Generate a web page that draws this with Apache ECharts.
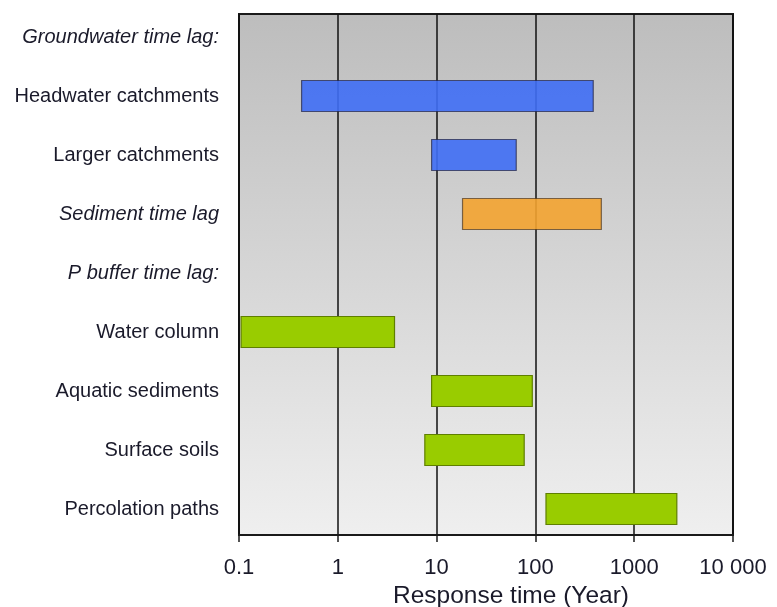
<!DOCTYPE html>
<html>
<head>
<meta charset="utf-8">
<script src="https://cdn.jsdelivr.net/npm/echarts@6/dist/echarts.min.js"></script>
<style>html,body{margin:0;padding:0;background:#fff}#c{width:777px;height:607px}</style>
</head>
<body>
<div id="c"></div>
<script>
// ---- data ----
var categories = ['Groundwater time lag:', 'Headwater catchments', 'Larger catchments', 'Sediment time lag', 'P buffer time lag:', 'Water column', 'Aquatic sediments', 'Surface soils', 'Percolation paths'];
var headerRows = ['Groundwater time lag:', 'Sediment time lag', 'P buffer time lag:'];
var rangeCategories = ['Headwater catchments', 'Larger catchments', 'Sediment time lag', 'Water column', 'Aquatic sediments', 'Surface soils', 'Percolation paths'];
var rangeStart = [0.43, 8.9, 18.3, 0.105, 8.9, 7.6, 128];
var rangeEnd = [385, 64, 465, 3.75, 93, 77, 2700];
var rangeGroup = ['groundwater', 'groundwater', 'sediment', 'pbuffer', 'pbuffer', 'pbuffer', 'pbuffer'];
var xTicks = [0.1, 1, 10, 100, 1000, 10000];
var xTickLabels = ['0.1', '1', '10', '100', '1000', '10 000'];

// ---- styles ----
var groupStyle = {
  groundwater: { fill: '#3f6ef5', opacity: 0.9, stroke: 'rgba(30,30,60,0.75)' },
  sediment: { fill: '#f3a330', opacity: 0.9, stroke: 'rgba(60,40,20,0.7)' },
  pbuffer: { fill: '#99cc00', opacity: 1, stroke: '#5f7f00' }
};
var FONT = 'Liberation Sans, Arial, sans-serif';
var TEXT = '#1a1a2a';

var seriesData = rangeCategories.map(function (c, i) {
  return [categories.indexOf(c), rangeStart[i], rangeEnd[i], i];
});

function xLabel(v) {
  for (var i = 0; i < xTicks.length; i++) {
    if (Math.abs(Math.log10(v) - Math.log10(xTicks[i])) < 1e-6) return xTickLabels[i];
  }
  return '';
}

var chart = echarts.init(document.getElementById('c'));
chart.setOption({
  animation: false,
  backgroundColor: '#ffffff',
  grid: [{
    left: 239, right: 44, top: 14, bottom: 72,
    containLabel: false,
    outerBoundsMode: 'none',
    show: true,
    borderColor: '#1a1a1a',
    borderWidth: 2,
    backgroundColor: new echarts.graphic.LinearGradient(0, 0, 0, 1, [
      { offset: 0, color: '#bdbdbd' },
      { offset: 1, color: '#efefef' }
    ])
  }, {
    left: 239, right: 44, top: 7.5, bottom: 68.5,
    containLabel: false,
    outerBoundsMode: 'none'
  }],
  xAxis: [{
    gridIndex: 0,
    type: 'log',
    logBase: 10,
    min: 0.1,
    max: 10000,
    name: 'Response time (Year)',
    nameLocation: 'middle',
    nameGap: 46,
    nameTextStyle: { fontFamily: FONT, fontSize: 24.5, color: TEXT, padding: [0, 0, 0, 50] },
    axisLine: { show: true, lineStyle: { color: '#1a1a1a', width: 2 } },
    axisTick: { show: true, length: 7, lineStyle: { color: '#1a1a1a', width: 1.5 } },
    splitLine: { show: true, lineStyle: { color: '#111', width: 1.5 } },
    axisLabel: { margin: 22, fontFamily: FONT, fontSize: 22, color: TEXT, formatter: xLabel }
  }, {
    gridIndex: 1,
    type: 'log',
    logBase: 10,
    min: 0.1,
    max: 10000,
    show: false
  }],
  yAxis: [{
    gridIndex: 0,
    type: 'value',
    show: false
  }, {
    gridIndex: 1,
    type: 'category',
    data: categories,
    inverse: true,
    axisLine: { show: false },
    axisTick: { show: false },
    splitLine: { show: false },
    axisLabel: {
      margin: 20,
      formatter: function (v) {
        return headerRows.indexOf(v) >= 0 ? '{i|' + v + '}' : '{n|' + v + '}';
      },
      rich: {
        i: { fontFamily: FONT, fontSize: 20, fontStyle: 'italic', color: TEXT },
        n: { fontFamily: FONT, fontSize: 20, color: TEXT }
      }
    }
  }],
  series: [{
    type: 'custom',
    xAxisIndex: 1,
    yAxisIndex: 1,
    encode: { x: [1, 2], y: 0 },
    data: seriesData,
    renderItem: function (params, api) {
      var cat = api.value(0);
      var p0 = api.coord([api.value(1), cat]);
      var p1 = api.coord([api.value(2), cat]);
      var h = api.size([0, 1])[1] * 0.525;
      var st = groupStyle[rangeGroup[api.value(3)]];
      return {
        type: 'rect',
        shape: { x: p0[0], y: p0[1] - h / 2, width: p1[0] - p0[0], height: h },
        style: { fill: st.fill, stroke: st.stroke, lineWidth: 1.2, opacity: st.opacity }
      };
    }
  }]
});
</script>
</body>
</html>
